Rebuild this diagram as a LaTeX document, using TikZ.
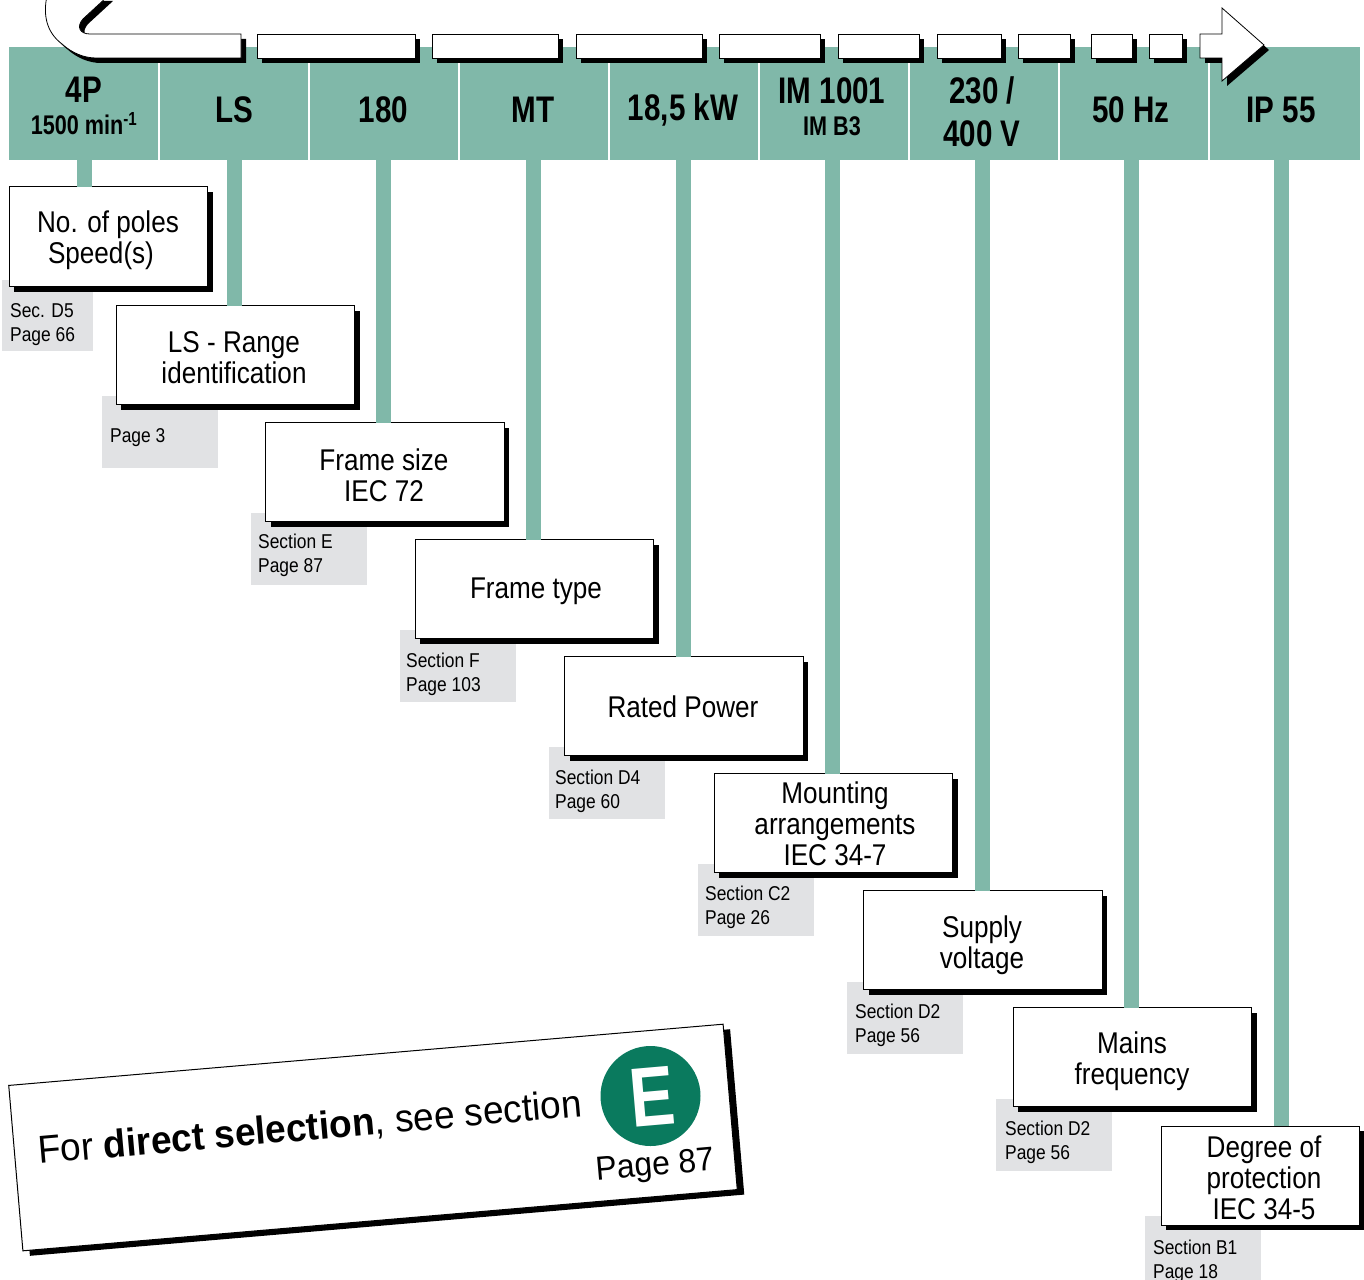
\documentclass[tikz,border=0pt]{standalone}
\usepackage{fontspec}
\setmainfont{Liberation Sans}
\newfontfamily\narrowfont[FakeStretch=0.87]{Liberation Sans}
\newfontfamily\hdfont[FakeStretch=0.8]{Liberation Sans}
\newfontfamily\panelfont[FakeStretch=0.95]{Liberation Sans}
\newcommand{\hdsmall}{\fontsize{27}{29}\selectfont}
\usetikzlibrary{shadows}
\definecolor{hdteal}{HTML}{80B8A9}
\definecolor{taggrey}{HTML}{E1E2E4}
\definecolor{badgegreen}{HTML}{0A7A5E}
\tikzset{
hdcell/.style={fill=hdteal,minimum width=148pt,minimum height=113pt,inner sep=0pt,outer sep=0pt},
hdtext/.style={inner sep=0pt,outer sep=0pt,align=center,font=\hdfont\bfseries\fontsize{37}{43}\selectfont},
barline/.style={draw=hdteal,line width=15pt},
shadowed/.style={drop shadow={shadow xshift=5pt,shadow yshift=-5pt,fill=black,opacity=1}},
stepbox/.style={shadowed,draw=black,fill=white,line width=1pt,minimum width=238.5pt,minimum height=99pt,inner sep=0pt,outer sep=0pt,anchor=north west},
steptext/.style={inner sep=0pt,align=center,font=\narrowfont\fontsize{30}{31}\selectfont},
tagbox/.style={fill=taggrey,minimum width=116pt,minimum height=72pt,inner sep=0pt,outer sep=0pt,anchor=north west},
tagtext/.style={inner sep=0pt,anchor=north west,align=left,font=\narrowfont\fontsize{20}{24}\selectfont},
arrowseg/.style={shadowed,draw=black,fill=white,line width=0.8pt}
}
\begin{document}
\begin{tikzpicture}[x=1pt,y=-1pt]
\useasboundingbox (0,0) rectangle (1364,1279);
\node[hdcell,minimum width=149pt] (hdA) at (83.5,103.5) {};
\node[hdcell] (hdB) at (234,103.5) {};
\node[hdcell] (hdC) at (384,103.5) {};
\node[hdcell] (hdD) at (534,103.5) {};
\node[hdcell] (hdE) at (684,103.5) {};
\node[hdcell] (hdF) at (834,103.5) {};
\node[hdcell] (hdG) at (984,103.5) {};
\node[hdcell] (hdH) at (1134,103.5) {};
\node[hdcell,minimum width=150pt] (hdI) at (1285,103.5) {};
\node[hdtext] (capA) at (84,90) {4P};
\node[hdtext,font=\hdfont\bfseries\hdsmall] (subA) at (84,124) {1500 min\textsuperscript{-1}};
\node[hdtext] (capB) at (234,109.5) {LS};
\node[hdtext] (capC) at (383.5,109.5) {180};
\node[hdtext] (capD) at (533,109.5) {MT};
\node[hdtext] (capE) at (683,109.5) {18,5 kW};
\node[hdtext] (capF) at (832,91) {IM 1001};
\node[hdtext,font=\hdfont\bfseries\hdsmall] (subF) at (832,126) {IM B3};
\node[hdtext] (capG) at (982,111.5) {230 /\\400 V};
\node[hdtext] (capH) at (1131,109.5) {50 Hz};
\node[hdtext] (capI) at (1281,109.5) {IP 55};
\node[tagbox,minimum width=91pt,minimum height=71pt] (tagA) at (2,280) {};
\node[tagbox] (tagB) at (102,396) {};
\node[tagbox] (tagC) at (251,513) {};
\node[tagbox] (tagD) at (400,630) {};
\node[tagbox] (tagE) at (549,747) {};
\node[tagbox] (tagF) at (698,864) {};
\node[tagbox] (tagG) at (847,982) {};
\node[tagbox] (tagH) at (996,1099) {};
\node[tagbox] (tagI) at (1145,1216) {};
\node[tagtext] (noteA) at (10,303.5) {Sec. D5\\Page 66};
\node[tagtext] (noteB) at (110,428.5) {Page 3};
\node[tagtext] (noteC) at (258,533.5) {Section E\\Page 87};
\node[tagtext] (noteD) at (406,652.5) {Section F\\Page 103};
\node[tagtext] (noteE) at (555,769.5) {Section D4\\Page 60};
\node[tagtext] (noteF) at (705,885.5) {Section C2\\Page 26};
\node[tagtext] (noteG) at (855,1003.5) {Section D2\\Page 56};
\node[tagtext] (noteH) at (1005,1120.5) {Section D2\\Page 56};
\node[tagtext] (noteI) at (1153,1239.5) {Section B1\\Page 18};
\node[stepbox,minimum width=198.5pt,minimum height=100pt] (boxA) at (9,186.5) {};
\node[stepbox] (boxB) at (116,305.5) {};
\node[stepbox] (boxC) at (265.5,422.5) {};
\node[stepbox] (boxD) at (415,539.5) {};
\node[stepbox] (boxE) at (564.5,656.5) {};
\node[stepbox] (boxF) at (714,773.5) {};
\node[stepbox] (boxG) at (863.5,890.5) {};
\node[stepbox] (boxH) at (1013,1007.5) {};
\node[stepbox,minimum width=198.5pt] (boxI) at (1161,1126) {};
\node[steptext] (txtA) at (108,240.5) {No. of poles\\\hspace*{-14pt}Speed(s)};
\node[steptext] (txtB) at (234,357.5) {LS - Range\\identification};
\node[steptext] (txtC) at (384,475.5) {Frame size\\IEC 72};
\node[steptext] (txtD) at (536,591) {Frame type};
\node[steptext] (txtE) at (683,706.5) {Rated Power};
\node[steptext] (txtF) at (835,823.5) {Mounting\\arrangements\\IEC 34-7};
\node[steptext] (txtG) at (982,945) {Supply\\voltage};
\node[steptext] (txtH) at (1132,1061) {Mains\\frequency};
\node[steptext] (txtI) at (1264,1177.5) {Degree of\\protection\\IEC 34-5};
\draw[barline] (capA |- hdA.south)--(capA |- boxA.north);
\draw[barline] (capB |- hdB.south)--(capB |- boxB.north);
\draw[barline] (capC |- hdC.south)--(capC |- boxC.north);
\draw[barline] (capD |- hdD.south)--(capD |- boxD.north);
\draw[barline] (capE |- hdE.south)--(capE |- boxE.north);
\draw[barline] (capF |- hdF.south)--(capF |- boxF.north);
\draw[barline] (capG |- hdG.south)--(capG |- boxG.north);
\draw[barline] (capH |- hdH.south)--(capH |- boxH.north);
\draw[barline] (capI |- hdI.south)--(capI |- boxI.north);
\draw[arrowseg] (47,-4) .. controls (43,14) and (46,32) .. (62,44) .. controls (72,53) and (84,58) .. (96,58)
 -- (241,58)--(241,34)--(90,34) .. controls (80,34) and (76,27) .. (83,19)--(108,-4)--cycle;
\draw[arrowseg] (257,34) rectangle (415,58);
\draw[arrowseg] (432,34) rectangle (558,58);
\draw[arrowseg] (576,34) rectangle (702,58);
\draw[arrowseg] (719,34) rectangle (820,58);
\draw[arrowseg] (838,34) rectangle (919,58);
\draw[arrowseg] (937,34) rectangle (1001,58);
\draw[arrowseg] (1018,34) rectangle (1070,58);
\draw[arrowseg] (1091,34) rectangle (1132,58);
\draw[arrowseg] (1149,34) rectangle (1182,58);
\draw[arrowseg] (1200,34)--(1222,34)--(1222,8)--(1264,45)--(1222,81)--(1222,58)--(1200,58)--cycle;
\node[drop shadow={shadow xshift=7pt,shadow yshift=-5pt,fill=black,opacity=1},draw=black,fill=white,line width=1pt,minimum width=717pt,minimum height=166pt,inner sep=0pt,outer sep=0pt,rotate=4.9] (panel) at (373,1137.5) {};
\node[rotate=5,inner sep=0pt,font=\panelfont\fontsize{39}{41}\selectfont] (panelText) at (310,1128.5) {For \textbf{direct selection}, see section};
\node[circle,fill=badgegreen,minimum size=100pt,inner sep=0pt] (badge) at (650.5,1096) {};
\node[rotate=5,inner sep=0pt,text=white,font=\hdfont\bfseries\fontsize{84}{84}\selectfont] (badgeE) at (652,1097) {E};
\node[rotate=5,inner sep=0pt,font=\panelfont\fontsize{33.5}{36}\selectfont] (panelPage) at (655,1167) {Page 87};
\end{tikzpicture}
\end{document}
